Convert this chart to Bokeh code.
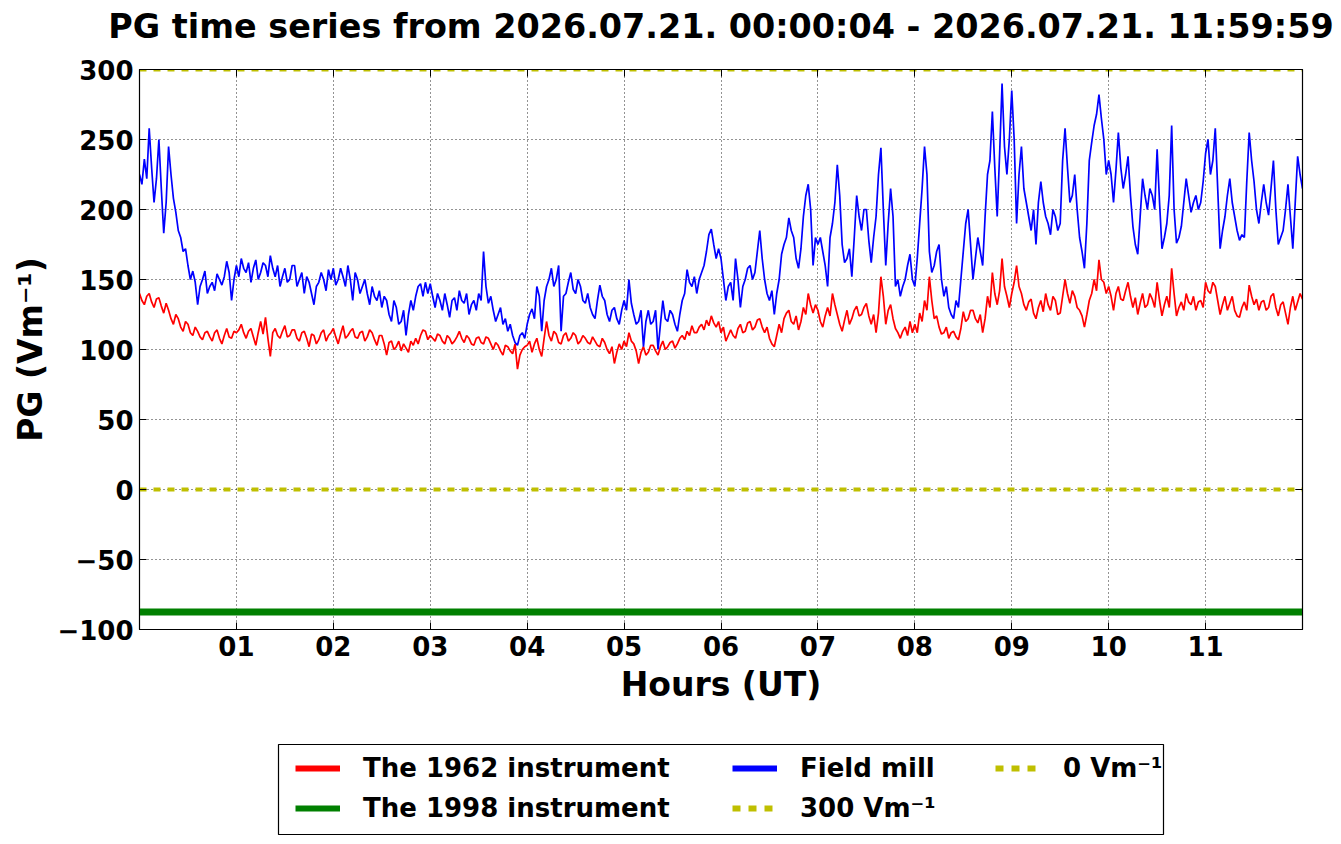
import numpy as np
from bokeh.plotting import figure
from bokeh.layouts import column
from bokeh.models import (Range1d, FixedTicker, LinearAxis, Legend, LegendItem,
                          BoxAnnotation)
from bokeh.embed import file_html
from bokeh.resources import INLINE

TITLE = "PG time series from 2026.07.21. 00:00:04 - 2026.07.21. 11:59:59"
X_LABEL = "Hours (UT)"
Y_LABEL = "PG (Vm\u207b\u00b9)"

SAMPLE_STEP_H = 0.025  # hours between read-off samples (40 per hour)

# Field mill (blue), one row per hour + final value
FIELD_MILL = [
    225, 218, 236, 222, 258, 230, 205, 222, 250, 215, 183, 205, 245, 225, 208, 198, 185, 180, 170, 172,
    160, 150, 156, 148, 132, 145, 150, 156, 140, 145, 148, 142, 154, 150, 146, 152, 163, 155, 135, 150,
    160, 152, 165, 158, 155, 162, 148, 158, 164, 150, 155, 162, 160, 152, 167, 158, 152, 160, 145, 152,
    158, 148, 150, 160, 160, 145, 150, 155, 140, 152, 148, 140, 132, 145, 148, 155, 150, 142, 157, 150,
    158, 146, 150, 158, 152, 145, 160, 150, 135, 155, 150, 140, 145, 150, 140, 132, 145, 138, 135, 142,
    130, 138, 135, 125, 120, 135, 130, 118, 120, 128, 110, 125, 135, 128, 138, 145, 147, 138, 148, 140,
    147, 138, 130, 140, 135, 128, 140, 132, 123, 135, 137, 128, 142, 135, 133, 140, 125, 132, 135, 128,
    140, 135, 170, 145, 133, 138, 128, 120, 125, 130, 118, 122, 113, 118, 110, 105, 103, 110, 112, 108,
    118, 125, 129, 122, 145, 138, 113, 135, 145, 150, 158, 145, 150, 160, 113, 138, 140, 148, 155, 143,
    140, 150, 145, 135, 133, 140, 130, 125, 122, 135, 146, 138, 135, 125, 120, 128, 130, 122, 118, 128,
    135, 128, 150, 133, 125, 118, 120, 128, 102, 120, 128, 118, 120, 128, 100, 118, 135, 122, 120, 128,
    125, 118, 113, 125, 135, 140, 157, 148, 145, 152, 140, 150, 155, 160, 170, 182, 186, 175, 165, 172,
    165, 150, 135, 145, 148, 135, 165, 150, 130, 145, 150, 158, 160, 150, 155, 170, 185, 165, 150, 140,
    135, 142, 125, 140, 150, 168, 175, 180, 194, 185, 180, 165, 158, 172, 195, 210, 218, 200, 160, 180,
    175, 180, 170, 160, 145, 180, 190, 205, 232, 210, 175, 162, 165, 172, 152, 180, 210, 195, 185, 200,
    200, 178, 162, 180, 195, 225, 244, 200, 160, 190, 215, 195, 145, 150, 138, 145, 150, 160, 168, 150,
    145, 165, 190, 215, 245, 225, 170, 155, 160, 170, 175, 150, 138, 145, 130, 125, 122, 135, 130, 150,
    170, 190, 200, 175, 150, 165, 180, 170, 160, 195, 225, 235, 270, 230, 195, 240, 290, 245, 225, 250,
    285, 250, 190, 225, 245, 215, 205, 195, 185, 200, 175, 205, 220, 205, 195, 190, 182, 200, 195, 185,
    190, 235, 258, 230, 205, 210, 225, 200, 180, 170, 158, 190, 235, 248, 260, 268, 282, 265, 250, 225,
    235, 225, 205, 228, 255, 230, 215, 225, 238, 210, 188, 175, 168, 195, 222, 210, 200, 215, 210, 200,
    243, 205, 172, 180, 190, 210, 260, 200, 176, 180, 188, 205, 222, 210, 198, 205, 210, 200, 205, 220,
    240, 250, 225, 235, 258, 215, 172, 185, 195, 210, 222, 205, 195, 185, 178, 182, 180, 220, 255, 235,
    220, 200, 190, 205, 218, 205, 196, 215, 235, 200, 175, 180, 185, 200, 218, 195, 172, 205, 238, 225,
    215,
]

# The 1962 instrument (red)
INSTR_1962 = [
    140, 135, 132, 138, 140, 134, 130, 136, 137, 131, 126, 133, 128, 122, 118, 125, 122, 116, 113, 120,
    118, 112, 110, 116, 113, 109, 107, 112, 113, 109, 106, 112, 114, 108, 104, 110, 115, 109, 108, 113,
    112, 114, 118, 112, 108, 113, 115, 109, 103, 112, 120, 111, 123, 108, 95, 112, 115, 110, 108, 113,
    117, 109, 110, 114, 114, 108, 106, 112, 113, 108, 102, 111, 110, 104, 107, 112, 114, 106, 110, 112,
    115, 109, 104, 111, 117, 108, 110, 113, 115, 109, 108, 112, 113, 106, 109, 114, 112, 107, 103, 110,
    110, 104, 96, 105, 106, 100, 102, 106, 99, 104, 101, 98, 106, 103, 108, 104, 110, 114, 113, 107,
    110, 108, 106, 111, 110, 106, 104, 110, 108, 104, 106, 109, 113, 108, 105, 110, 108, 104, 103, 108,
    109, 105, 104, 109, 108, 104, 100, 105, 103, 99, 96, 103, 102, 99, 97, 104, 86, 96, 100, 102,
    103, 106, 98, 104, 108, 100, 95, 108, 120, 110, 106, 113, 111, 105, 104, 110, 112, 106, 108, 112,
    110, 104, 106, 110, 108, 105, 104, 109, 106, 103, 102, 108, 105, 100, 97, 102, 90, 98, 104, 100,
    106, 102, 112, 106, 104, 99, 90, 98, 102, 96, 98, 103, 103, 99, 96, 102, 106, 100, 102, 105,
    106, 101, 104, 108, 110, 107, 113, 110, 117, 112, 112, 116, 118, 114, 121, 117, 124, 119, 116, 120,
    112, 116, 106, 110, 114, 110, 108, 115, 118, 112, 113, 119, 120, 114, 116, 121, 122, 116, 112, 116,
    108, 104, 102, 110, 118, 112, 122, 126, 128, 120, 118, 124, 114, 120, 130, 125, 140, 132, 126, 132,
    128, 120, 116, 124, 130, 124, 140, 132, 125, 118, 113, 121, 128, 118, 122, 128, 131, 124, 125, 130,
    133, 124, 118, 125, 112, 126, 152, 138, 118, 128, 132, 122, 115, 112, 108, 113, 116, 110, 120, 112,
    118, 112, 126, 120, 135, 128, 152, 135, 122, 124, 116, 111, 112, 116, 108, 112, 113, 109, 107, 115,
    127, 120, 122, 128, 128, 122, 119, 125, 112, 122, 138, 130, 155, 140, 132, 142, 165, 145, 138, 130,
    140, 148, 160, 145, 140, 132, 128, 134, 136, 126, 122, 130, 135, 127, 140, 132, 128, 138, 135, 125,
    126, 138, 150, 140, 133, 142, 138, 130, 128, 124, 116, 125, 135, 140, 150, 142, 164, 150, 148, 140,
    145, 138, 128, 140, 145, 136, 135, 142, 148, 138, 130, 137, 125, 133, 140, 130, 132, 140, 136, 130,
    148, 135, 124, 132, 138, 130, 158, 140, 124, 130, 134, 128, 140, 134, 132, 138, 128, 134, 135, 130,
    148, 142, 140, 148, 145, 135, 125, 132, 138, 128, 133, 138, 128, 124, 123, 130, 134, 128, 146, 138,
    132, 136, 128, 134, 135, 128, 130, 138, 140, 130, 124, 132, 134, 126, 118, 130, 138, 128, 134, 140,
    136,
]

# The 1998 instrument (green): flat level
INSTR_1998_LEVEL = -87.5

REF_LEVELS = [300, 0]

X_TICKS = [1, 2, 3, 4, 5, 6, 7, 8, 9, 10, 11]
X_TICK_LABELS = ["01", "02", "03", "04", "05", "06", "07", "08", "09", "10", "11"]
Y_TICKS = [-100, -50, 0, 50, 100, 150, 200, 250, 300]
Y_TICK_LABELS = ["\u2212100", "\u221250", "0", "50", "100", "150", "200", "250", "300"]

LEGEND_LABELS = ["The 1962 instrument", "The 1998 instrument", "Field mill",
                 "300 Vm\u207b\u00b9", "0 Vm\u207b\u00b9"]

RED = "#ff0000"
GREEN = "#008000"
BLUE = "#0000ff"
YELLOW = "#bfbf00"
FONT = "DejaVu Sans"

hours_blue = [i * SAMPLE_STEP_H for i in range(len(FIELD_MILL))]
hours_red = [i * SAMPLE_STEP_H for i in range(len(INSTR_1962))]
green_vals = [INSTR_1998_LEVEL] * len(hours_blue)

BORDER_L, BORDER_R = 139, 34
FRAME_W = 1163


def blank_panel(frame_h):
    f = figure(frame_width=FRAME_W, frame_height=frame_h, output_backend="svg",
               toolbar_location=None, x_axis_location=None, y_axis_location=None,
               min_border_left=BORDER_L, min_border_right=BORDER_R, min_border_top=0,
               min_border_bottom=0, x_range=Range1d(0, 1), y_range=Range1d(0, 1))
    f.grid.visible = False
    f.outline_line_color = None
    f.background_fill_color = "white"
    f.border_fill_color = "white"
    return f


# ---- title strip ----
tf = blank_panel(1)
tf.title.text = TITLE
tf.title.align = "center"
tf.title.vertical_align = "top"
tf.title.text_font = FONT
tf.title.text_font_size = "33.4px"
tf.title.text_font_style = "bold"
tf.title.text_color = "black"
tf.title.standoff = 12

# ---- main plot ----
p = figure(frame_width=FRAME_W, frame_height=560,
           x_range=Range1d(0, 12), y_range=Range1d(-100, 300),
           output_backend="svg", toolbar_location=None,
           min_border_left=BORDER_L, min_border_right=BORDER_R,
           min_border_top=15, min_border_bottom=114)
p.background_fill_color = "white"
p.border_fill_color = "white"
p.outline_line_color = "black"
p.outline_line_width = 1.2
p.title.text = ""

r_red = p.line(hours_red, INSTR_1962, line_color=RED, line_width=1.7)
r_green = p.line(hours_blue, green_vals, line_color=GREEN, line_width=7)
r_blue = p.line(hours_blue, FIELD_MILL, line_color=BLUE, line_width=1.7)
for lvl in REF_LEVELS:
    p.line([hours_blue[0], hours_blue[-1]], [lvl, lvl], line_color=YELLOW, line_width=4,
           line_dash="7 7")

for ax in (p.xaxis[0], p.yaxis[0]):
    ax.major_tick_in = 7
    ax.major_tick_out = 0
    ax.minor_tick_in = 0
    ax.minor_tick_out = 0
    ax.axis_line_color = "black"
    ax.major_label_text_font = FONT
    ax.major_label_text_font_size = "26px"
    ax.major_label_text_font_style = "bold"
    ax.major_label_text_color = "black"
    ax.axis_label_text_font = FONT
    ax.axis_label_text_font_size = "33px"
    ax.axis_label_text_font_style = "bold"
    ax.axis_label_text_color = "black"
    ax.major_label_standoff = 6

p.xaxis.ticker = FixedTicker(ticks=X_TICKS)
p.xaxis.major_label_overrides = {t: l for t, l in zip(X_TICKS, X_TICK_LABELS)}
p.xaxis.axis_label = X_LABEL
p.xaxis.axis_label_standoff = 6
p.yaxis.ticker = FixedTicker(ticks=Y_TICKS)
p.yaxis.major_label_overrides = {t: l for t, l in zip(Y_TICKS, Y_TICK_LABELS)}
p.yaxis.axis_label = Y_LABEL
p.yaxis.axis_label_standoff = 4

for loc, ticks in (("right", Y_TICKS), ("above", X_TICKS)):
    ax = LinearAxis(ticker=FixedTicker(ticks=ticks), major_tick_in=7, major_tick_out=0,
                    minor_tick_in=0, minor_tick_out=0, major_label_text_font_size="0px",
                    major_label_standoff=0, axis_line_color="black")
    ax.major_label_overrides = {t: "" for t in ticks}
    p.add_layout(ax, loc)

p.xgrid.ticker = FixedTicker(ticks=X_TICKS)
p.ygrid.ticker = FixedTicker(ticks=Y_TICKS)
for g in (p.xgrid[0], p.ygrid[0]):
    g.grid_line_color = "black"
    g.grid_line_dash = "1 3"
    g.grid_line_width = 1
    g.grid_line_alpha = 0.85

# ---- legend strip ----
lg = blank_panel(92)
nan_pt = np.array([np.nan])
h_red = lg.line(x=nan_pt, y=nan_pt, line_color=RED, line_width=6)
h_green = lg.line(x=nan_pt, y=nan_pt, line_color=GREEN, line_width=6)
h_blue = lg.line(x=nan_pt, y=nan_pt, line_color=BLUE, line_width=6)
h_y300 = lg.line(x=nan_pt, y=nan_pt, line_color=YELLOW, line_width=6, line_dash="8 8")
h_y0 = lg.line(x=nan_pt, y=nan_pt, line_color=YELLOW, line_width=6, line_dash="8 8")

legend_box = BoxAnnotation(left=139, right=1024, bottom=1, top=91,
                           left_units="screen", right_units="screen",
                           top_units="screen", bottom_units="screen",
                           fill_alpha=0, line_color="black", line_width=1.2,
                           line_alpha=1)
lg.add_layout(legend_box)

columns = [
    ([(LEGEND_LABELS[0], h_red), (LEGEND_LABELS[1], h_green)], (156, 12)),
    ([(LEGEND_LABELS[2], h_blue), (LEGEND_LABELS[3], h_y300)], (593, 12)),
    ([(LEGEND_LABELS[4], h_y0)], (856, 52)),
]
for items, loc in columns:
    leg = Legend(items=[LegendItem(label=l, renderers=[r]) for l, r in items],
                 location=loc, orientation="vertical",
                 border_line_color=None, background_fill_alpha=0,
                 padding=0, margin=0, spacing=10,
                 glyph_width=45, glyph_height=30, label_height=30,
                 label_standoff=23, label_text_font=FONT,
                 label_text_font_size="26px", label_text_font_style="bold",
                 label_text_color="black")
    lg.add_layout(leg)

layout = column(tf, p, lg)
open("out.html", "w").write(file_html(layout, INLINE))
